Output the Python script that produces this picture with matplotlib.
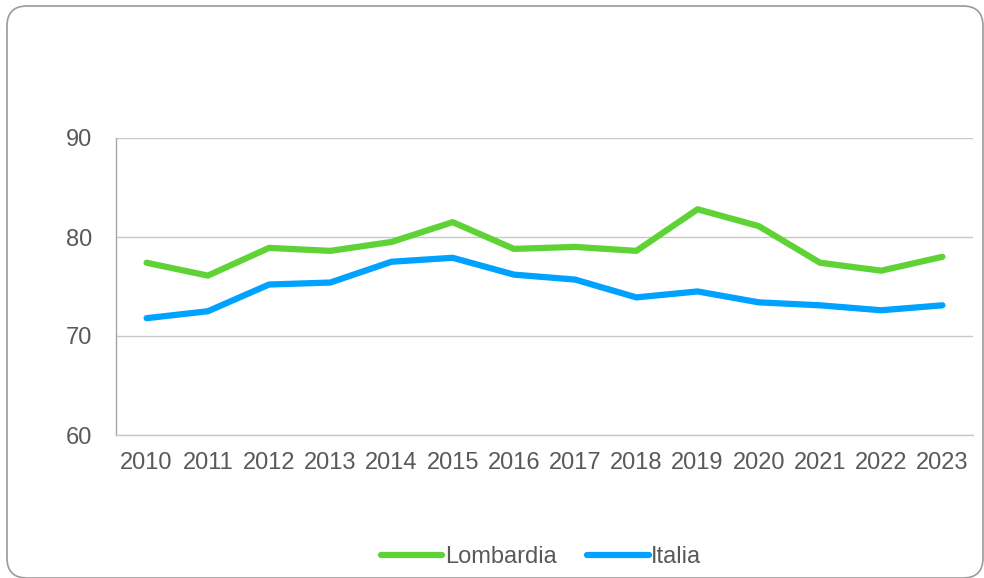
import matplotlib.pyplot as plt
from matplotlib.patches import FancyBboxPatch
from matplotlib.transforms import IdentityTransform

years = ['2010', '2011', '2012', '2013', '2014', '2015', '2016',
         '2017', '2018', '2019', '2020', '2021', '2022', '2023']
lombardia = [77.4, 76.1, 78.9, 78.6, 79.5, 81.5, 78.8,
             79.0, 78.6, 82.8, 81.1, 77.4, 76.6, 78.0]
italia = [71.8, 72.5, 75.2, 75.4, 77.5, 77.9, 76.2,
          75.7, 73.9, 74.5, 73.4, 73.1, 72.6, 73.1]
y_ticks = [60, 70, 80, 90]

plt.rcParams['font.family'] = ['Liberation Sans', 'DejaVu Sans']
text_color = '#595959'

fig = plt.figure(figsize=(9.84, 5.78), dpi=100)
ax = fig.add_axes([116 / 984, 1 - 435 / 578, 857 / 984, 297 / 578])

# rounded frame around the whole chart (pixel coords)
frame = FancyBboxPatch((7, 0), 976, 572, boxstyle='round,pad=0,rounding_size=20',
                       transform=IdentityTransform(), facecolor='none',
                       edgecolor='#9a9a9a', linewidth=1.2)
fig.patches.append(frame)

x = range(len(years))
ax.plot(x, lombardia, color='#5fd335', linewidth=4.5, label='Lombardia',
        solid_capstyle='round', solid_joinstyle='round')
ax.plot(x, italia, color='#00a2ff', linewidth=4.5, label='Italia',
        solid_capstyle='round', solid_joinstyle='round')

ax.set_xlim(-0.5, len(years) - 0.5)
ax.set_ylim(60, 90)
ax.set_yticks(y_ticks)
ax.set_xticks(list(x))
ax.set_xticklabels(years)
ax.yaxis.grid(True, color='#c8c8c8', linewidth=1)
ax.set_axisbelow(True)
ax.patch.set_alpha(0)

for side in ['top', 'right']:
    ax.spines[side].set_visible(False)
ax.spines['bottom'].set_color('#c8c8c8')
ax.spines['bottom'].set_linewidth(1)
ax.spines['left'].set_color('#a6a6a6')
ax.spines['left'].set_linewidth(1)

ax.tick_params(axis='y', length=0, pad=17, labelsize=17, labelcolor=text_color)
ax.tick_params(axis='x', length=0, pad=12, labelsize=17, labelcolor=text_color)

ax.legend(loc='center', bbox_to_anchor=(541 / 984, (578 - 557) / 578), bbox_transform=fig.transFigure,
          ncol=2, frameon=False, fontsize=17, labelcolor=text_color,
          handlelength=2.6, handletextpad=0.1, columnspacing=1.3)

fig.savefig('out.png', dpi=100)
